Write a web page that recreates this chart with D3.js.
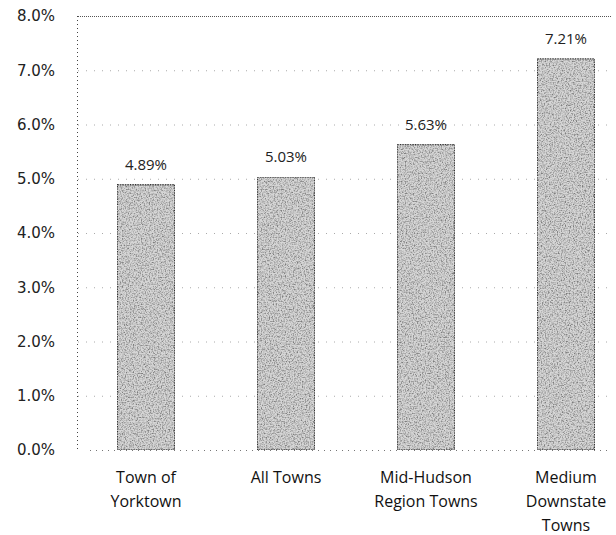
<!DOCTYPE html>
<html>
<head>
<meta charset="utf-8">
<script src="https://cdn.jsdelivr.net/npm/d3@7"></script>
<style>
  html, body { margin: 0; padding: 0; background: #fff; }
  svg { display: block; }
</style>
</head>
<body>
<div id="chart"></div>
<script>
// Share of value by town group
const categories = [["Town of", "Yorktown"], ["All Towns"], ["Mid-Hudson", "Region Towns"], ["Medium", "Downstate", "Towns"]];
const values = [4.89, 5.03, 5.63, 7.21];
const valueLabels = ["4.89%", "5.03%", "5.63%", "7.21%"];
const yTicks = [0, 1, 2, 3, 4, 5, 6, 7, 8];
const yTickLabels = ["0.0%", "1.0%", "2.0%", "3.0%", "4.0%", "5.0%", "6.0%", "7.0%", "8.0%"];

const W = 616, H = 535;
const svg = d3.select("#chart").append("svg").attr("width", W).attr("height", H);

const x = d3.scaleBand().domain(d3.range(values.length)).range([76, 636]).paddingInner(0.59).paddingOuter(0.295);
const y = d3.scaleLinear().domain([0, 8]).range([450, 16]);

// speckled grain for the bars
const defs = svg.append("defs");
const f = defs.append("filter").attr("id", "grain").attr("x", 0).attr("y", 0).attr("width", 1).attr("height", 1);
f.append("feTurbulence").attr("type", "fractalNoise").attr("baseFrequency", 0.75).attr("numOctaves", 3).attr("seed", 11).attr("result", "noise");
f.append("feColorMatrix").attr("in", "noise").attr("type", "matrix")
  .attr("values", "0 0 0 0 0.2  0 0 0 0 0.2  0 0 0 0 0.2  0 0 0 -2.6 1.55").attr("result", "dots");
f.append("feComposite").attr("in", "dots").attr("in2", "SourceGraphic").attr("operator", "in").attr("result", "clipped");
f.append("feMerge").selectAll("feMergeNode").data(["SourceGraphic", "clipped"]).join("feMergeNode").attr("in", d => d);

// gridlines
svg.append("g").selectAll("line").data(yTicks.filter(d => d > 0)).join("line")
  .attr("x1", 78).attr("x2", 612)
  .attr("y1", d => y(d) + 0.5).attr("y2", d => y(d) + 0.5)
  .attr("stroke", d => d === 8 ? "#555" : "#aaa")
  .attr("stroke-width", 1)
  .attr("stroke-dasharray", d => d === 8 ? "1,1" : "1,7");
svg.append("line").attr("x1", 90).attr("x2", 612).attr("y1", y(0) + 0.5).attr("y2", y(0) + 0.5)
  .attr("stroke", "#777").attr("stroke-dasharray", "1,5");

// y axis
svg.append("line").attr("x1", 77.5).attr("x2", 77.5).attr("y1", y(8)).attr("y2", y(0))
  .attr("stroke", "#444").attr("stroke-dasharray", "1,3");
const yAxis = d3.axisLeft(y).tickValues(yTicks).tickFormat((d, i) => yTickLabels[i]).tickSize(0).tickPadding(0);
const ya = svg.append("g").attr("transform", "translate(55,0)").call(yAxis);
ya.select(".domain").remove();
ya.selectAll("text").attr("font-family", "DejaVu Sans, Verdana, sans-serif").attr("font-size", 15).attr("fill", "#222");

// bars
svg.append("g").selectAll("rect").data(values).join("rect")
  .attr("x", (d, i) => x(i)).attr("y", d => y(d))
  .attr("width", x.bandwidth()).attr("height", d => y(0) - y(d))
  .attr("fill", "#d6d6d6").attr("stroke", "#333").attr("stroke-width", 1.4)
  .attr("stroke-dasharray", "1.5,1")
  .attr("filter", "url(#grain)");

// value labels
svg.append("g").selectAll("text").data(values).join("text")
  .attr("x", (d, i) => x(i) + x.bandwidth() / 2).attr("y", d => y(d) - 15)
  .attr("text-anchor", "middle").attr("font-family", "Open Sans, sans-serif").attr("font-size", 15)
  .attr("fill", "#222").text((d, i) => valueLabels[i]);

// category labels
const cat = svg.append("g").selectAll("text").data(categories).join("text")
  .attr("x", (d, i) => x(i) + x.bandwidth() / 2).attr("y", 483)
  .attr("text-anchor", "middle").attr("font-family", "Open Sans, sans-serif").attr("font-size", 16).attr("fill", "#111");
cat.selectAll("tspan").data(d => d).join("tspan")
  .attr("x", function () { return d3.select(this.parentNode).attr("x"); })
  .attr("dy", (d, i) => i === 0 ? 0 : 24).text(d => d);
</script>
</body>
</html>
